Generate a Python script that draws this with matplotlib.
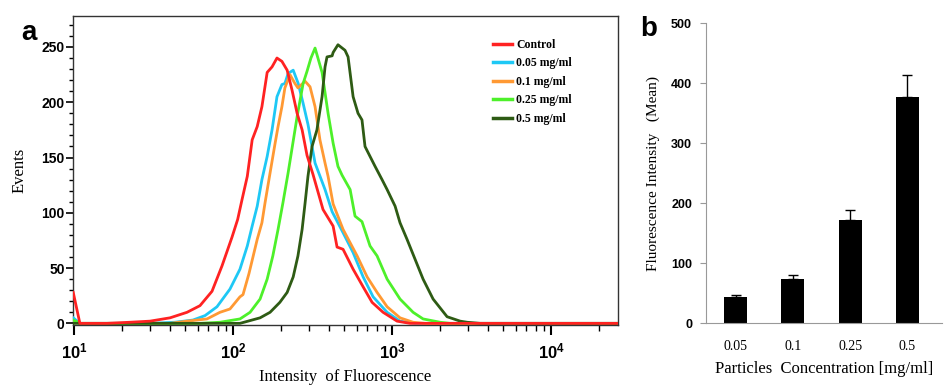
import numpy as np
import matplotlib.pyplot as plt
from matplotlib.ticker import MultipleLocator, LogLocator, NullFormatter

# panel a : histogram curves (intensity, events)
ctrl_x = [9.9, 10.9, 16.1, 22.5, 30.1, 40.2, 51.4, 62.0, 73.8, 85.3, 98.6, 107, 114, 123, 132,
          142, 152, 164, 176, 189, 203, 219, 235, 253, 272, 292, 318, 368, 426, 451, 492,
          569, 658, 749, 878, 1075, 1297, 26000]
ctrl_y = [28, 0, 0, 1, 2, 5, 10, 16, 29, 52, 78, 94, 112, 133, 166,
          178, 196, 227, 232, 240, 237, 229, 211, 190, 175, 152, 135, 103, 88, 69, 67,
          49, 33, 19, 10, 2, 0, 0]

c005_x = [9.9, 10.9, 30.1, 43.2, 56.0, 66.7, 79.3, 95.7, 110.6, 123, 132, 142, 152, 164, 176,
          189, 203, 212, 222, 239, 257, 276, 296, 328, 379, 420, 492, 569, 658, 760, 931,
          1122, 1395, 26000]
c005_y = [5, 0, 0, 1, 3, 7, 15, 31, 49, 70, 88, 106, 130, 151, 175,
          205, 216, 217, 226, 229, 217, 199, 180, 145, 121, 101, 82, 64, 42, 24, 10,
          2, 0, 0]

c01_x = [9.9, 10.9, 40.2, 51.4, 68.6, 82.8, 95.7, 110.6, 115.6, 126, 142, 152, 159, 171, 184,
         192, 203, 212, 228, 245, 256, 284, 305, 328, 352, 379, 396, 426, 492, 603, 697,
         805, 931, 1122, 1356, 1613, 26000]
c01_y = [2, 0, 0, 2, 4, 10, 13, 24, 26, 45, 76, 91, 109, 136, 163,
         178, 196, 213, 225, 217, 213, 219, 214, 196, 166, 145, 133, 108, 85, 61, 42,
         28, 15, 5, 1, 0, 0]

c025_x = [9.9, 10.9, 62.0, 82.8, 110.6, 128, 148, 164, 178, 192, 206, 222, 253, 276, 292,
          309, 328, 363, 396, 426, 457, 485, 545, 585, 647, 727, 805, 931, 1122, 1356,
          1567, 2005, 2317, 26000]
c025_y = [3, 0, 0, 1, 4, 10, 22, 40, 61, 85, 109, 136, 187, 217, 228,
          240, 249, 227, 190, 163, 142, 134, 121, 97, 92, 70, 61, 40, 22, 10,
          4, 1, 0, 0]

c05_x = [9.9, 110.6, 148, 171, 197, 219, 239, 256, 272, 284, 296, 314, 337, 363, 379,
         390, 420, 426, 457, 506, 529, 569, 611, 647, 676, 727, 782, 865, 931, 1045,
         1122, 1242, 1395, 1567, 1811, 2218, 2680, 2965, 3573, 26000]
c05_y = [0, 0, 5, 10, 19, 28, 42, 61, 85, 109, 133, 160, 175, 205, 232,
         241, 242, 245, 252, 247, 241, 205, 190, 184, 160, 151, 142, 130, 121, 106,
         91, 76, 58, 40, 22, 6, 2, 1, 0, 0]

series_names = ['Control', '0.05 mg/ml', '0.1 mg/ml', '0.25 mg/ml', '0.5 mg/ml']
series_colors = ['#ff2222', '#1ec8f5', '#ff9933', '#4df02a', '#2e5b14']

# panel b : mean fluorescence
conc_labels = ['0.05', '0.1', '0.25', '0.5']
mean_vals = [43, 74, 172, 376]
err_vals = [4, 6, 16, 38]

serif = ['Liberation Serif', 'DejaVu Serif']
sans = ['Liberation Sans', 'DejaVu Sans']

fig = plt.figure(figsize=(9.45, 3.85), dpi=100)

# ---------- panel a ----------
ax = fig.add_axes([0.0772, 0.1558, 0.5767, 0.8026])
curves = [(ctrl_x, ctrl_y), (c005_x, c005_y), (c01_x, c01_y), (c025_x, c025_y), (c05_x, c05_y)]
for i, (xs, ys) in enumerate(curves):
    z = 10 if i == 0 else 3 + i
    ax.plot(xs, ys, color=series_colors[i], lw=2.0, label=series_names[i], zorder=z)

ax.set_xscale('log')
ax.set_xlim(9.86, 26300)
ax.set_ylim(-1.5, 278)

for s in ax.spines.values():
    s.set_color('#333333')
    s.set_linewidth(1.0)

ax.set_yticks([0, 50, 100, 150, 200, 250])
ax.yaxis.set_minor_locator(MultipleLocator(10))
ax.tick_params(axis='y', which='major', direction='out', length=5, width=1.2, pad=1)
ax.tick_params(axis='y', which='minor', direction='out', length=3, width=1.0)
for lab in ax.get_yticklabels():
    lab.set_fontfamily(sans)
    lab.set_fontweight('bold')
    lab.set_fontsize(10)

ax.set_xticks([10, 100, 1000, 10000])
ax.set_xticklabels([r'$\mathregular{10^{1}}$', r'$\mathregular{10^{2}}$',
                    r'$\mathregular{10^{3}}$', r'$\mathregular{10^{4}}$'])
ax.xaxis.set_minor_locator(LogLocator(base=10, subs=np.arange(2, 10)))
ax.xaxis.set_minor_formatter(NullFormatter())
ax.tick_params(axis='x', which='major', direction='out', length=7, width=1.5, pad=5)
ax.tick_params(axis='x', which='minor', direction='out', length=4, width=1.0)
for lab in ax.get_xticklabels():
    lab.set_fontfamily(sans)
    lab.set_fontweight('bold')
    lab.set_fontsize(12)

ax.set_xlabel('Intensity  of Fluorescence', fontfamily=serif, fontsize=12, labelpad=5)
ax.set_ylabel('Events', fontfamily=serif, fontsize=12, labelpad=10)

leg = ax.legend(loc='upper left', bbox_to_anchor=(0.76, 0.945), frameon=False,
                prop={'family': serif, 'weight': 'bold', 'size': 8.5},
                handlelength=1.6, handletextpad=0.35, labelspacing=0.55, borderpad=0)
for h in leg.get_lines():
    h.set_linewidth(2.5)

fig.text(0.023, 0.915, 'a', fontfamily=sans, fontweight='bold', fontsize=20, va='center', ha='left')

# ---------- panel b ----------
bx = fig.add_axes([0.747, 0.161, 0.250, 0.779])
pos = np.arange(len(conc_labels))
bx.bar(pos, mean_vals, width=0.4, color='black',
       yerr=[np.zeros(len(err_vals)), err_vals],
       error_kw={'ecolor': 'black', 'elinewidth': 1.0, 'capsize': 3.5, 'capthick': 1.0})
bx.set_xlim(-0.52, 3.61)
bx.set_ylim(0, 500)
bx.set_yticks([0, 100, 200, 300, 400, 500])
bx.spines['top'].set_visible(False)
bx.spines['right'].set_visible(False)
bx.spines['left'].set_color('#999999')
bx.spines['bottom'].set_color('#999999')
bx.tick_params(axis='y', direction='out', length=4, color='#999999', pad=6)
bx.tick_params(axis='x', length=0, pad=12)
bx.set_xticks(pos)
bx.set_xticklabels(conc_labels, fontfamily=serif, fontsize=10)
for lab in bx.get_yticklabels():
    lab.set_fontfamily(sans)
    lab.set_fontweight('bold')
    lab.set_fontsize(9)
bx.set_xlabel('Particles  Concentration [mg/ml]', fontfamily=serif, fontsize=12, labelpad=6)
bx.set_ylabel('Fluorescence Intensity   (Mean)', fontfamily=serif, fontsize=11, labelpad=8)

fig.text(0.677, 0.925, 'b', fontfamily=sans, fontweight='bold', fontsize=20, va='center', ha='left')

fig.savefig('out.png', dpi=100)
